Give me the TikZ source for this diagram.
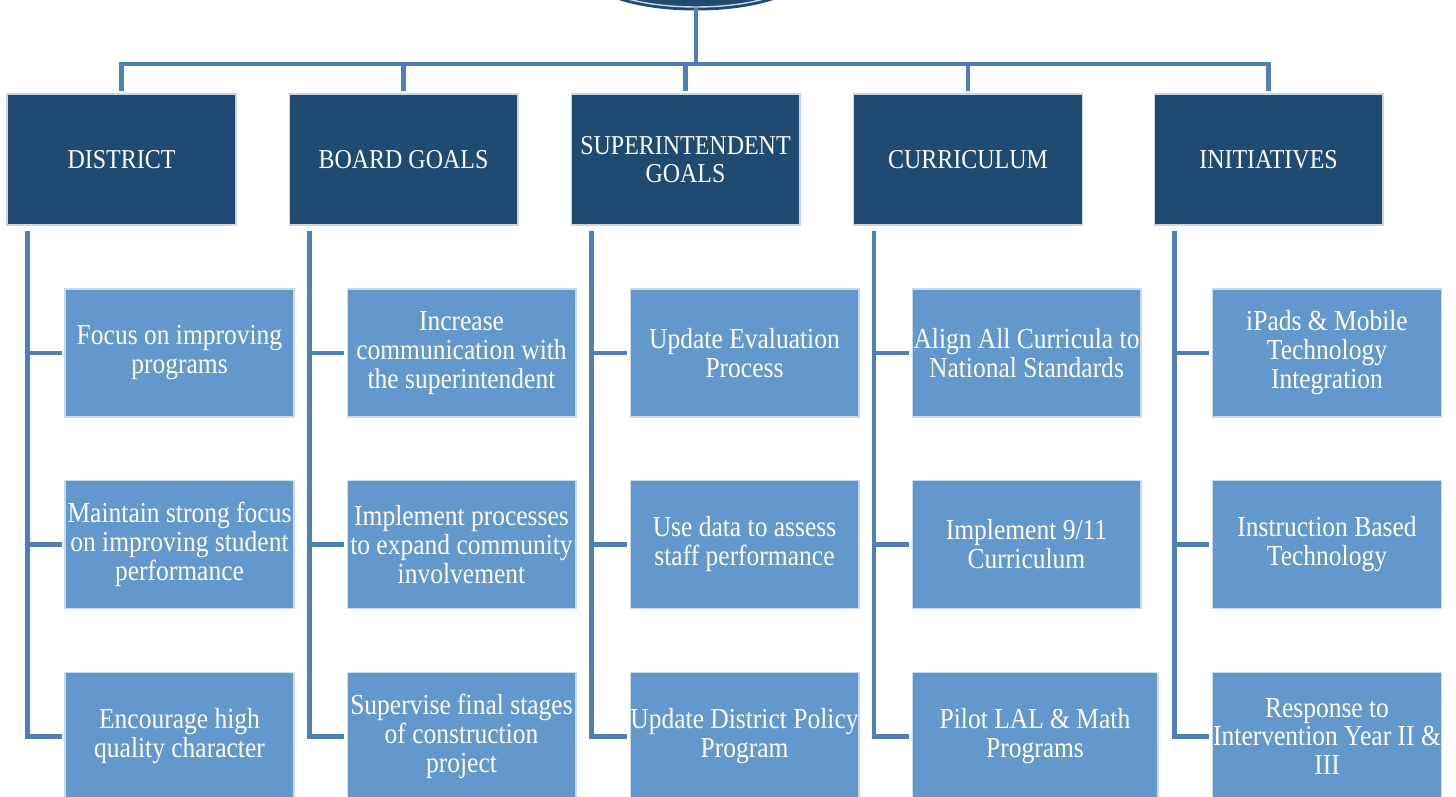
\documentclass[tikz,border=0pt]{standalone}
\usepackage{fontspec}
\setmainfont{Liberation Serif}[FakeStretch=0.88]
\usepackage{xcolor}
\usepackage{tikz}
\usetikzlibrary{shapes.geometric, positioning, calc}
\definecolor{goalnavy}{HTML}{1F4A72}
\definecolor{goalblue}{HTML}{6298CB}
\definecolor{linkblue}{HTML}{4F7FB3}
\definecolor{rimlight}{HTML}{C9D6E6}

\tikzset{
  headbox/.style={rectangle, fill=goalnavy, draw=rimlight, line width=0.6pt,
    minimum width=4.58cm, minimum height=2.62cm, inner sep=0pt, align=center,
    text=white, font=\fontsize{15.5}{16}\selectfont},
  itembox/.style={rectangle, fill=goalblue, draw=white!65!goalblue, line width=0.6pt,
    minimum width=4.58cm, minimum height=2.56cm, inner sep=0pt, align=center,
    text=white, font=\fontsize{16.5}{16.5}\selectfont},
  link/.style={draw=linkblue, line width=2.8pt, shorten >=1.5pt}
}

\begin{document}
\begin{tikzpicture}[x=0.02cm, y=-0.02cm]
  % Page frame
  \clip (0,0) rectangle (1456,797);
  \fill[white] (0,0) rectangle (1456,797);

  % Top ellipse (cut by the page edge)
  \node[ellipse, fill=goalnavy, draw=goalnavy, line width=1.6pt, double=rimlight,
    double distance=0.8pt, minimum width=4.4cm, minimum height=1.48cm] (mission) at (696,-30) {};
  \coordinate (bus) at (696,64);

  % Header boxes
  \node[headbox] (district) at (121.5,159.5) {DISTRICT};
  \node[headbox] (board) at (403.5,159.5) {BOARD GOALS};
  \node[headbox] (superint) at (685.5,159.5) {SUPERINTENDENT\\GOALS};
  \node[headbox] (curric) at (968,159.5) {CURRICULUM};
  \node[headbox] (initiat) at (1268.5,159.5) {INITIATIVES};

  % Trunk and bus
  \draw[link, shorten >=0pt] (mission.south) -- (bus);
  \draw[link] (bus) -| (district.north);
  \draw[link] (bus) -| (board.north);
  \draw[link] (bus) -| (superint.north);
  \draw[link] (bus) -| (curric.north);
  \draw[link] (bus) -| (initiat.north);

  % District items
  \node[itembox] (dist1) at (179.5,353) {Focus on improving\\programs};
  \node[itembox] (dist2) at (179.5,544.5) {Maintain strong focus\\on improving student\\performance};
  \node[itembox] (dist3) at (179.5,736.5) {Encourage high\\quality character};

  % Board goal items
  \node[itembox] (board1) at (461.5,353) {Increase\\communication with\\the superintendent};
  \node[itembox] (board2) at (461.5,544.5) {Implement processes\\to expand community\\involvement};
  \node[itembox] (board3) at (461.5,736.5) {Supervise final stages\\of construction\\project};

  % Superintendent goal items
  \node[itembox] (sup1) at (744.5,353) {Update Evaluation\\Process};
  \node[itembox] (sup2) at (744.5,544.5) {Use data to assess\\staff performance};
  \node[itembox] (sup3) at (744.5,736.5) {Update District Policy\\Program};

  % Curriculum items
  \node[itembox] (cur1) at (1026.5,353) {Align All Curricula to\\National Standards};
  \node[itembox] (cur2) at (1026.5,544.5) {Implement 9/11\\Curriculum};
  \node[itembox, minimum width=4.92cm] (cur3) at (1035,736.5) {Pilot LAL \& Math\\Programs};

  % Initiative items
  \node[itembox] (ini1) at (1327,353) {iPads \& Mobile\\Technology\\Integration};
  \node[itembox] (ini2) at (1327,544.5) {Instruction Based\\Technology};
  \node[itembox] (ini3) at (1327,736.5) {Response to\\Intervention Year II \&\\III};

  % Column spines
  \coordinate (distspine) at ([shift={(21,5)}]district.south west);
  \coordinate (boardspine) at ([shift={(21,5)}]board.south west);
  \coordinate (supspine) at ([shift={(21,5)}]superint.south west);
  \coordinate (curspine) at ([shift={(21,5)}]curric.south west);
  \coordinate (inispine) at ([shift={(21,5)}]initiat.south west);

  \draw[link] (distspine) |- (dist3.west);
  \draw[link] (distspine |- dist1.west) -- (dist1.west);
  \draw[link] (distspine |- dist2.west) -- (dist2.west);

  \draw[link] (boardspine) |- (board3.west);
  \draw[link] (boardspine |- board1.west) -- (board1.west);
  \draw[link] (boardspine |- board2.west) -- (board2.west);

  \draw[link] (supspine) |- (sup3.west);
  \draw[link] (supspine |- sup1.west) -- (sup1.west);
  \draw[link] (supspine |- sup2.west) -- (sup2.west);

  \draw[link] (curspine) |- (cur3.west);
  \draw[link] (curspine |- cur1.west) -- (cur1.west);
  \draw[link] (curspine |- cur2.west) -- (cur2.west);

  \draw[link] (inispine) |- (ini3.west);
  \draw[link] (inispine |- ini1.west) -- (ini1.west);
  \draw[link] (inispine |- ini2.west) -- (ini2.west);
\end{tikzpicture}
\end{document}
